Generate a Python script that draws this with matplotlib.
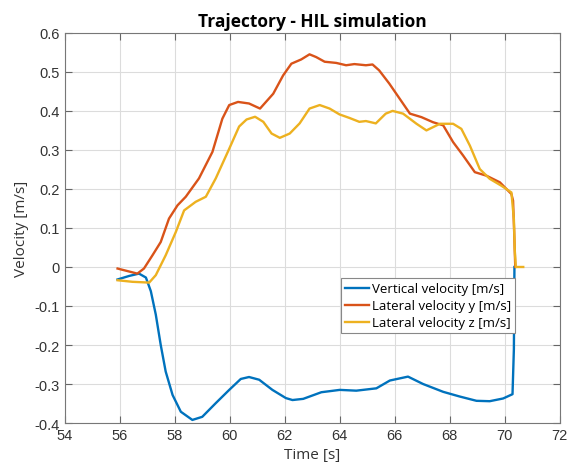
import matplotlib
matplotlib.use("Agg")
import matplotlib.pyplot as plt
from matplotlib.ticker import FuncFormatter

# Vertical velocity [m/s]
t_vert = [55.92, 56.34, 56.70, 56.95, 57.13, 57.31, 57.49, 57.67, 57.92, 58.22,
          58.64, 59.00, 59.49, 59.98, 60.40, 60.70, 61.07, 61.55, 62.04, 62.28,
          62.67, 63.33, 64.00, 64.60, 65.33, 65.82, 66.48, 67.03, 67.76, 68.36,
          68.97, 69.45, 69.94, 70.28, 70.33, 70.35]
v_vert = [-0.032, -0.023, -0.017, -0.027, -0.062, -0.122, -0.200, -0.268, -0.328, -0.371,
          -0.392, -0.384, -0.349, -0.315, -0.287, -0.282, -0.289, -0.315, -0.336, -0.341,
          -0.338, -0.321, -0.315, -0.317, -0.311, -0.291, -0.281, -0.300, -0.320, -0.332,
          -0.343, -0.344, -0.337, -0.326, -0.210, 0.000]

# Lateral velocity y [m/s]
t_laty = [55.92, 56.64, 56.88, 57.19, 57.49, 57.79, 58.10, 58.40, 58.88, 59.37,
          59.73, 59.98, 60.30, 60.70, 61.10, 61.58, 61.94, 62.24, 62.60, 62.90,
          63.14, 63.45, 63.87, 64.23, 64.53, 64.95, 65.19, 65.43, 65.80, 66.18,
          66.55, 66.97, 67.39, 67.76, 68.12, 68.48, 68.91, 69.33, 69.82, 70.24,
          70.30, 70.34, 70.38]
v_laty = [-0.004, -0.017, -0.004, 0.030, 0.064, 0.124, 0.158, 0.180, 0.227, 0.295,
          0.380, 0.415, 0.423, 0.419, 0.406, 0.444, 0.491, 0.521, 0.532, 0.545,
          0.538, 0.526, 0.523, 0.517, 0.520, 0.517, 0.519, 0.504, 0.470, 0.431,
          0.393, 0.384, 0.371, 0.363, 0.320, 0.286, 0.243, 0.234, 0.217, 0.187,
          0.170, 0.090, 0.000]

# Lateral velocity z [m/s]
t_latz = [55.92, 56.46, 57.07, 57.31, 57.67, 58.04, 58.34, 58.76, 59.13, 59.49,
          59.98, 60.34, 60.61, 60.92, 61.22, 61.52, 61.82, 62.18, 62.54, 62.90,
          63.27, 63.63, 63.99, 64.35, 64.71, 64.95, 65.31, 65.67, 65.92, 66.30,
          66.79, 67.15, 67.64, 68.12, 68.42, 68.73, 69.09, 69.45, 69.88, 70.24,
          70.33, 70.36, 70.40, 70.67]
v_latz = [-0.034, -0.038, -0.040, -0.021, 0.030, 0.090, 0.145, 0.167, 0.180, 0.227,
          0.303, 0.360, 0.378, 0.385, 0.372, 0.342, 0.331, 0.342, 0.368, 0.406,
          0.415, 0.406, 0.391, 0.382, 0.372, 0.374, 0.368, 0.393, 0.400, 0.393,
          0.367, 0.350, 0.367, 0.367, 0.354, 0.311, 0.251, 0.226, 0.208, 0.191,
          0.122, 0.045, 0.000, 0.000]

plt.rcParams["axes.unicode_minus"] = False

fig = plt.figure(figsize=(5.73, 4.77), dpi=100)
ax = fig.add_axes([0.113, 0.111, 0.864, 0.818])

ax.plot(t_vert, v_vert, color="#0072BD", lw=1.7, label="Vertical velocity [m/s]")
ax.plot(t_laty, v_laty, color="#D95319", lw=1.7, label="Lateral velocity y [m/s]")
ax.plot(t_latz, v_latz, color="#EDB120", lw=1.7, label="Lateral velocity z [m/s]")

ax.set_xlim(54, 72)
ax.set_ylim(-0.4, 0.6)
ax.set_xticks(range(54, 73, 2))
ax.set_yticks([i / 10 for i in range(-4, 7)])
ax.yaxis.set_major_formatter(FuncFormatter(lambda v, p: "%g" % round(v, 2)))

ax.grid(True, color="#dcdcdc", lw=0.8)
ax.set_axisbelow(True)
ax.tick_params(direction="in", length=5, top=True, right=True, colors="#666666",
               labelcolor="#333333", labelsize=10.5)
for lab in ax.get_xticklabels() + ax.get_yticklabels():
    lab.set_family("Liberation Sans")
for s in ax.spines.values():
    s.set_color("#777777")
    s.set_linewidth(0.8)

ax.set_title("Trajectory - HIL simulation", family="Open Sans", fontweight="bold",
             fontsize=12.5, pad=5)
ax.set_xlabel("Time [s]", family="Open Sans", fontsize=11, color="#333333")
ax.set_ylabel("Velocity [m/s]", family="Open Sans", fontsize=11, color="#333333")

leg = ax.legend(loc="upper left", bbox_to_anchor=(0.559, 0.371), borderaxespad=0,
                fancybox=False, framealpha=1, edgecolor="#888888",
                prop={"family": "Open Sans", "size": 9.5},
                handlelength=1.8, handletextpad=0.2, labelspacing=0.3,
                borderpad=0.3)
leg.get_frame().set_linewidth(0.8)

fig.savefig("out.png", dpi=100)
